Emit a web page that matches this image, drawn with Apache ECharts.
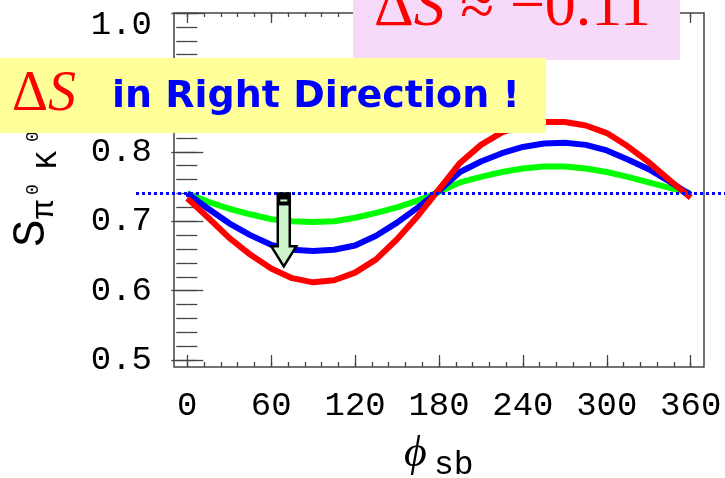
<!DOCTYPE html>
<html>
<head>
<meta charset="utf-8">
<script src="https://cdn.jsdelivr.net/npm/echarts@6/dist/echarts.min.js"></script>
<style>html,body{margin:0;padding:0;background:#fff}#c{width:725px;height:478px}</style>
</head>
<body>
<div id="c"></div>
<script>
// ---- data ----
const phi = [0,15,30,45,60,75,90,105,120,135,150,165,180,195,210,225,240,255,270,285,300,315,330,345,360];
const sRed   = [0.733,0.705,0.676,0.652,0.632,0.618,0.612,0.615,0.626,0.645,0.674,0.708,0.746,0.784,0.810,0.828,0.838,0.843,0.843,0.838,0.827,0.808,0.785,0.759,0.734];
const sBlue  = [0.740,0.718,0.697,0.680,0.666,0.659,0.657,0.659,0.665,0.679,0.698,0.720,0.744,0.771,0.786,0.798,0.807,0.812,0.813,0.810,0.802,0.789,0.775,0.757,0.738];
const sGreen = [0.740,0.728,0.718,0.710,0.703,0.700,0.699,0.700,0.705,0.712,0.720,0.730,0.742,0.756,0.764,0.771,0.776,0.779,0.779,0.776,0.771,0.764,0.756,0.748,0.740];
const xTickValues = [0,60,120,180,240,300,360];
const xMinorTicks = [0,12,24,36,48,60,72,84,96,108,120,132,144,156,168,180,192,204,216,228,240,252,264,276,288,300,312,324,336,348,360];
const yTickValues = [0.5,0.6,0.7,0.8,0.9,1.0];
const yMinorTicks = [0.5,0.52,0.54,0.56,0.58,0.6,0.62,0.64,0.66,0.68,0.7,0.72,0.74,0.76,0.78,0.8,0.82,0.84,0.86,0.88,0.9,0.92,0.94,0.96,0.98,1.0];
const referenceS = 0.74;
const arrowPhi = 69, arrowFrom = 0.74, arrowTo = 0.635;

const X_MIN = -9.5, X_MAX = 369.5, Y_MIN = 0.49, Y_MAX = 1.0;
const tickColor = '#444';
const labelFont = {fontFamily: 'Liberation Mono', fontSize: 34, color: '#000'};

function xAx(pos, len, vals, labels) {
  return {
    type: 'value', position: pos, min: X_MIN, max: X_MAX,
    axisLine: {show: false}, splitLine: {show: false},
    axisTick: {show: true, inside: true, length: len, customValues: vals, lineStyle: {color: tickColor, width: 1.3}},
    axisLabel: labels ? Object.assign({customValues: xTickValues, margin: 22, formatter: v => String(Math.round(v))}, labelFont) : {show: false}
  };
}
function yAx(pos, len, vals, labels) {
  return {
    type: 'value', position: pos, min: Y_MIN, max: Y_MAX,
    axisLine: {show: false}, splitLine: {show: false},
    axisTick: {show: true, inside: true, length: len, customValues: vals, lineStyle: {color: tickColor, width: 1.3}},
    axisLabel: labels ? Object.assign({customValues: yTickValues, margin: 22,
      formatter: v => (Math.abs(v - Y_MAX) < 1e-6 ? '{t|' + v.toFixed(1) + '}' : v.toFixed(1)),
      rich: {t: Object.assign({padding: [24, 0, 0, 0]}, labelFont)}}, labelFont) : {show: false}
  };
}
function pairs(ys) { return phi.map((p, i) => [p, ys[i]]); }

const chart = echarts.init(document.getElementById('c'), null, {renderer: 'canvas'});
chart.setOption({
  animation: false,
  backgroundColor: '#fff',
  grid: {left: 174, right: 21, top: 13, bottom: 111, show: true, borderColor: '#444', borderWidth: 1.5, backgroundColor: 'transparent'},
  xAxis: [xAx('bottom', 12, xTickValues, true), xAx('bottom', 5, xMinorTicks, false), xAx('top', 10, xTickValues, false), xAx('top', 4, xMinorTicks, false)],
  yAxis: [yAx('left', 16, yTickValues, true), yAx('left', 10, yMinorTicks, false), yAx('right', 16, yTickValues, false), yAx('right', 11, yMinorTicks, false)],
  series: [
    {type: 'line', data: pairs(sGreen), showSymbol: false, lineStyle: {color: '#00ff00', width: 6}, z: 2},
    {type: 'line', data: pairs(sBlue), showSymbol: false, lineStyle: {color: '#0000ff', width: 6}, z: 3},
    {type: 'line', data: pairs(sRed), showSymbol: false, lineStyle: {color: '#ff0000', width: 6}, z: 4}
  ]
});

const refPx = chart.convertToPixel({xAxisIndex: 0, yAxisIndex: 0}, [0, referenceS]);
const aTop = chart.convertToPixel({xAxisIndex: 0, yAxisIndex: 0}, [arrowPhi, arrowFrom]);
const aTip = chart.convertToPixel({xAxisIndex: 0, yAxisIndex: 0}, [arrowPhi, arrowTo]);
const cx = aTop[0], headY = aTip[1] - 20;

const red = '#ff0000', blue = '#0000ff';
const rot = Math.PI / 2;
chart.setOption({
  graphic: [
    {type: 'line', z: 50, shape: {x1: 136, y1: refPx[1], x2: 725, y2: refPx[1]}, style: {stroke: blue, lineWidth: 3, lineDash: [3, 3]}},
    {type: 'polygon', z: 60, shape: {points: [[cx-6, aTop[1]], [cx+6, aTop[1]], [cx+6, headY], [cx+12.5, headY], [cx, aTip[1]], [cx-12.5, headY], [cx-6, headY]]},
      style: {fill: '#ccf5cc', stroke: '#000', lineWidth: 2.5}},
    {type: 'rect', z: 61, shape: {x: cx-6, y: aTop[1], width: 12, height: 12}, style: {fill: '#000'}},
    {type: 'rect', z: 62, shape: {x: cx-3.5, y: aTop[1]+6, width: 7, height: 2}, style: {fill: '#ccf5cc'}},
    // pink box
    {type: 'rect', z: 100, shape: {x: 353, y: -5, width: 327, height: 65}, style: {fill: '#f7d9fa'}},
    {type: 'text', z: 101, x: 374, y: 9, style: {text: '{d|Δ}{s|S} ≈ {n|−0.11}', fill: red, font: '62px "Liberation Serif"', align: 'left', verticalAlign: 'middle',
      rich: {d: {fontFamily: 'Liberation Serif', fontSize: 62, fill: red}, s: {fontFamily: 'Liberation Serif', fontStyle: 'italic', fontSize: 62, fill: red},
             n: {fontFamily: 'Liberation Serif', fontSize: 62, fill: red}}}},
    // yellow box
    {type: 'rect', z: 100, shape: {x: -2, y: 58, width: 548, height: 75}, style: {fill: '#ffff99'}},
    {type: 'text', z: 101, x: 12, y: 95, style: {text: '{d|Δ}{s|S}', align: 'left', verticalAlign: 'middle',
      rich: {d: {fontFamily: 'Liberation Serif', fontSize: 56, fill: red}, s: {fontFamily: 'Liberation Serif', fontStyle: 'italic', fontSize: 56, fill: red}}}},
    {type: 'text', z: 101, x: 112, y: 97, style: {text: 'in Right Direction !', fill: blue, font: 'bold 38px "DejaVu Sans"', align: 'left', verticalAlign: 'middle'}},
    // y axis name S_{pi0 K0}
    {type: 'text', z: 20, x: 32, y: 247, rotation: rot, style: {text: 'S', fill: '#000', font: '46px "Liberation Mono"', align: 'left', verticalAlign: 'middle'}},
    {type: 'text', z: 20, x: 45, y: 219, rotation: rot, style: {text: 'π', fill: '#000', font: '32px "Liberation Mono"', align: 'left', verticalAlign: 'middle'}},
    {type: 'text', z: 20, x: 33, y: 195, rotation: rot, style: {text: '0', fill: '#000', font: '18px "Liberation Mono"', align: 'left', verticalAlign: 'middle'}},
    {type: 'text', z: 20, x: 48, y: 169, rotation: rot, style: {text: 'K', fill: '#000', font: '30px "Liberation Mono"', align: 'left', verticalAlign: 'middle'}},
    {type: 'text', z: 20, x: 33, y: 142, rotation: rot, style: {text: '0', fill: '#000', font: '18px "Liberation Mono"', align: 'left', verticalAlign: 'middle'}},
    // x axis name phi_sb
    {type: 'text', z: 20, x: 404, y: 454, style: {text: 'ϕ', fill: '#000', font: 'italic 44px "Liberation Serif"', align: 'left', verticalAlign: 'middle'}},
    {type: 'text', z: 20, x: 434, y: 465, style: {text: 'sb', fill: '#000', font: '33px "Liberation Mono"', align: 'left', verticalAlign: 'middle'}}
  ]
});
</script>
</body>
</html>
